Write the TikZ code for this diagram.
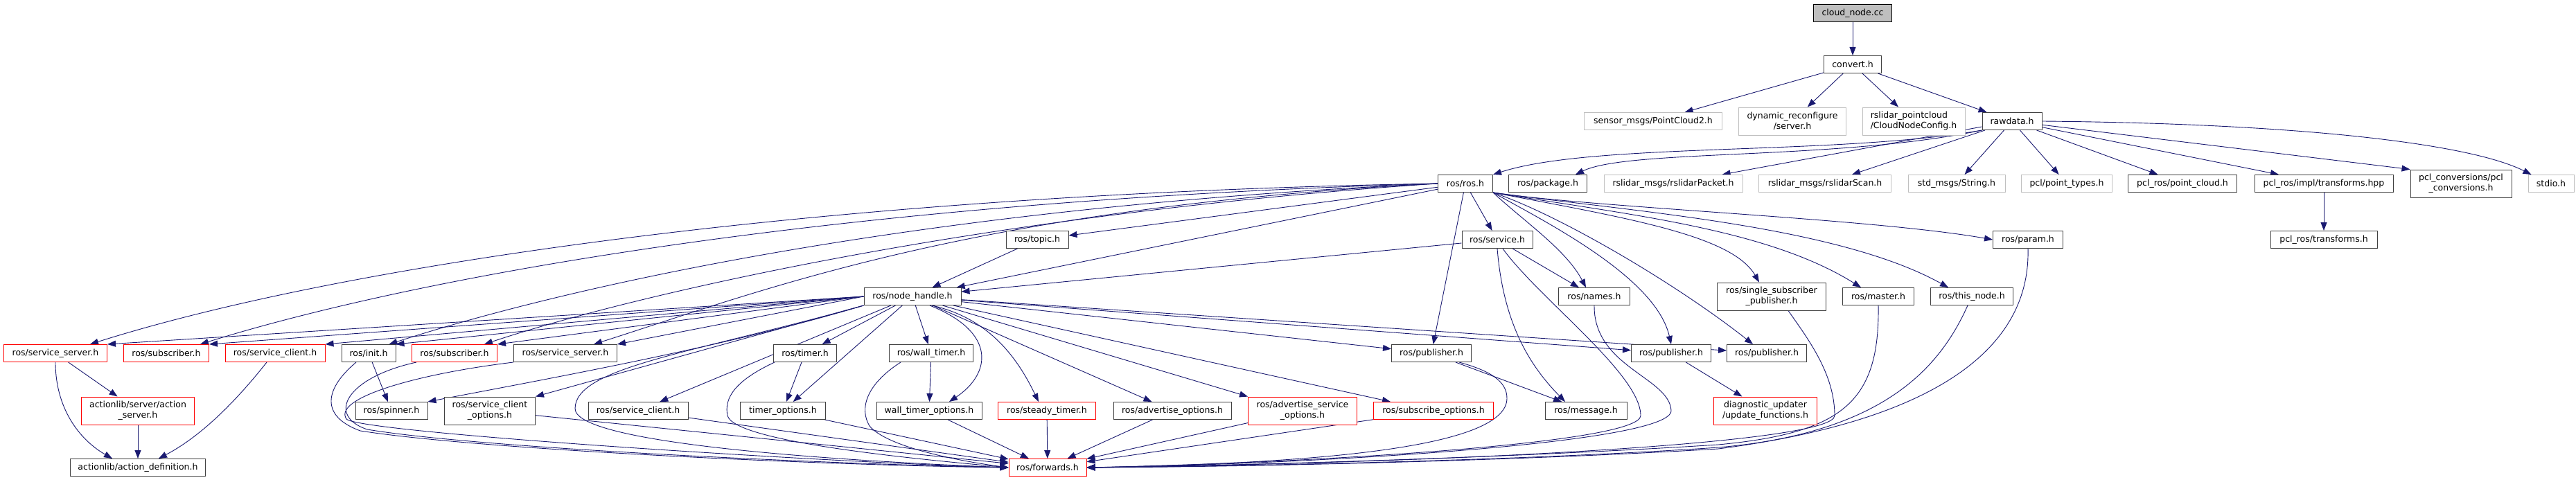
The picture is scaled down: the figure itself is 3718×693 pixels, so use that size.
\documentclass[tikz,border=0pt]{standalone}
\usepackage{fontspec}
\newfontfamily\dotfont{DejaVu Sans}
\usepackage{xcolor}
\usepackage{tikz}
\usetikzlibrary{arrows.meta, backgrounds}
\definecolor{edgeblue}{HTML}{191970}
\definecolor{hdrgray}{HTML}{404040}
\definecolor{extgray}{HTML}{BFBFBF}

\begin{document}
\begin{tikzpicture}[
    x=1pt, y=-1pt,
    hdr/.style={rectangle, draw=hdrgray, fill=white, line width=1pt, minimum height=25pt, inner sep=0pt, align=center, font=\dotfont\fontsize{12.5}{15}\selectfont},
    ext/.style={hdr, draw=extgray},
    trunc/.style={hdr, draw=red},
    root/.style={hdr, draw=black, fill=extgray},
    twoline/.style={minimum height=40pt},
    dep/.style={draw=edgeblue, line width=0.9pt, -{Triangle[length=12pt,width=9pt]}}
]

\useasboundingbox (0,0) rectangle (3718,693);

% Root and first level
\node[root, minimum width=113pt] (cloud) at (2674,19) {cloud\_node.cc};
\node[hdr, minimum width=83pt] (convert) at (2674,93) {convert.h};

\node[ext, minimum width=199pt] (pc2) at (2386,175) {sensor\_msgs/PointCloud2.h};
\node[ext, twoline, minimum width=155pt] (dynrec) at (2587,175) {dynamic\_reconfigure\\/server.h};
\node[ext, twoline, minimum width=148pt, align=left] (cfg) at (2762,175) {rslidar\_pointcloud\\/CloudNodeConfig.h};
\node[hdr, minimum width=86pt] (rawdata) at (2904,175) {rawdata.h};

% Headers pulled in by rawdata.h
\node[hdr, minimum width=79pt] (ros) at (2115,265) {ros/ros.h};
\node[hdr, minimum width=113pt] (pkg) at (2234,265) {ros/package.h};
\node[ext, minimum width=200pt] (pkt) at (2415,265) {rslidar\_msgs/rslidarPacket.h};
\node[ext, minimum width=191pt] (scan) at (2634,265) {rslidar\_msgs/rslidarScan.h};
\node[ext, minimum width=140pt] (str) at (2824,265) {std\_msgs/String.h};
\node[ext, minimum width=131pt] (ptypes) at (2983,265) {pcl/point\_types.h};
\node[hdr, minimum width=157pt] (pcloud) at (3150,265) {pcl\_ros/point\_cloud.h};
\node[hdr, minimum width=200pt] (tfhpp) at (3354,265) {pcl\_ros/impl/transforms.hpp};
\node[hdr, twoline, minimum width=146pt] (pclconv) at (3552,265) {pcl\_conversions/pcl\\\_conversions.h};
\node[ext, minimum width=66pt] (stdio) at (3682,265) {stdio.h};

\node[hdr, minimum width=90pt] (topic) at (1497,346) {ros/topic.h};
\node[hdr, minimum width=102pt] (service) at (2161,346) {ros/service.h};
\node[hdr, minimum width=101pt] (param) at (2927,346) {ros/param.h};
\node[hdr, minimum width=154pt] (tfh) at (3354,346) {pcl\_ros/transforms.h};

\node[hdr, minimum width=140pt] (nh) at (1317,428) {ros/node\_handle.h};
\node[hdr, minimum width=103pt] (names) at (2301,428) {ros/names.h};
\node[hdr, twoline, minimum width=157pt] (ssp) at (2557,428) {ros/single\_subscriber\\\_publisher.h};
\node[hdr, minimum width=103pt] (master) at (2711,428) {ros/master.h};
\node[hdr, minimum width=119pt] (thisnode) at (2846,428) {ros/this\_node.h};

% node_handle.h level
\node[trunc, minimum width=149pt] (ssred) at (80,510) {ros/service\_server.h};
\node[trunc, minimum width=123pt] (subred) at (240,510) {ros/subscriber.h};
\node[trunc, minimum width=144pt] (scred) at (397,510) {ros/service\_client.h};
\node[hdr, minimum width=78pt] (init) at (532,510) {ros/init.h};
\node[trunc, minimum width=123pt] (subred2) at (656,510) {ros/subscriber.h};
\node[hdr, minimum width=149pt] (ssblk) at (816,510) {ros/service\_server.h};
\node[hdr, minimum width=91pt] (timer) at (1162,510) {ros/timer.h};
\node[hdr, minimum width=121pt] (wtimer) at (1344,510) {ros/wall\_timer.h};
\node[hdr, minimum width=115pt] (pub1) at (2066,510) {ros/publisher.h};
\node[hdr, minimum width=115pt] (pub2) at (2412,510) {ros/publisher.h};
\node[hdr, minimum width=115pt] (pub3) at (2550,510) {ros/publisher.h};

\node[trunc, twoline, minimum width=163pt] (asrv) at (199,593) {actionlib/server/action\\\_server.h};
\node[hdr, minimum width=104pt] (spinner) at (565,593) {ros/spinner.h};
\node[hdr, twoline, minimum width=131pt] (sco) at (707,593) {ros/service\_client\\\_options.h};
\node[hdr, minimum width=144pt] (scblk) at (921,593) {ros/service\_client.h};
\node[hdr, minimum width=123pt] (topts) at (1130,593) {timer\_options.h};
\node[hdr, minimum width=152pt] (wtopts) at (1341,593) {wall\_timer\_options.h};
\node[trunc, minimum width=141pt] (steady) at (1511,593) {ros/steady\_timer.h};
\node[hdr, minimum width=170pt] (advopts) at (1692,593) {ros/advertise\_options.h};
\node[trunc, twoline, minimum width=157pt] (asopts) at (1880,593) {ros/advertise\_service\\\_options.h};
\node[trunc, minimum width=173pt] (subopts) at (2069,593) {ros/subscribe\_options.h};
\node[hdr, minimum width=118pt] (msg) at (2289,593) {ros/message.h};
\node[trunc, twoline, minimum width=149pt] (diag) at (2548,593) {diagnostic\_updater\\/update\_functions.h};

\node[hdr, minimum width=195pt] (adef) at (199,675) {actionlib/action\_definition.h};
\node[trunc, minimum width=112pt] (fwd) at (1512,675) {ros/forwards.h};

\begin{scope}[on background layer]
% top of the tree
\draw[dep] (cloud) -- (convert);
\draw[dep] (convert) -- (pc2);
\draw[dep] (convert) -- (dynrec);
\draw[dep] (convert) -- (cfg);
\draw[dep] (convert) -- (rawdata);

% rawdata.h
\draw[dep] (rawdata.south west) .. controls (2650,225) and (2300,205) .. (ros.north east);
\draw[dep] (rawdata.south west) .. controls (2650,232) and (2350,215) .. ([xshift=40pt]pkg.north);
\draw[dep] (rawdata) -- (pkt);
\draw[dep] (rawdata) -- (scan);
\draw[dep] (rawdata) -- (str);
\draw[dep] (rawdata) -- (ptypes);
\draw[dep] (rawdata) -- (pcloud);
\draw[dep] (rawdata) -- (tfhpp);
\draw[dep] (rawdata) -- (pclconv.north west);
\draw[dep] (rawdata.east) .. controls (3300,178) and (3560,205) .. ([xshift=5pt]stdio.north west);
\draw[dep] (tfhpp) -- (tfh);

% ros/ros.h
\draw[dep] (ros.west) .. controls (1200,280) and (500,380) .. ([xshift=50pt]ssred.north);
\draw[dep] (ros.west) .. controls (1200,290) and (600,400) .. ([xshift=49pt]subred.north);
\draw[dep] (ros.west) .. controls (1300,300) and (800,420) .. ([xshift=-10pt]init.north east);
\draw[dep] (ros.west) .. controls (1400,310) and (900,430) .. ([xshift=43pt]subred2.north);
\draw[dep] (ros.west) .. controls (1400,300) and (1100,420) .. ([xshift=41pt]ssblk.north);
\draw[dep] (ros) -- (topic);
\draw[dep] (ros) -- (nh);
\draw[dep] (ros) -- (service);
\draw[dep] (ros) -- (pub1);
\draw[dep] (ros.south east) .. controls (2200,320) and (2260,360) .. ([xshift=-12pt]names.north);
\draw[dep] (ros.south east) .. controls (2230,320) and (2390,400) .. (pub2.north);
\draw[dep] (ros.south east) .. controls (2250,310) and (2420,410) .. ([xshift=-20pt]pub3.north);
\draw[dep] (ros.south east) .. controls (2350,315) and (2500,340) .. ([xshift=-18pt]ssp.north);
\draw[dep] (ros.south east) .. controls (2350,310) and (2550,330) .. ([xshift=-25pt]master.north);
\draw[dep] (ros.south east) .. controls (2350,305) and (2650,325) .. ([xshift=-34pt]thisnode.north);
\draw[dep] (ros.south east) .. controls (2300,300) and (2700,315) .. (param.west);

% ros/node_handle.h
\draw[dep] (nh.west) -- (ssred.north east);
\draw[dep] (nh.west) -- (subred.north east);
\draw[dep] (nh.west) -- (scred.north east);
\draw[dep] (nh.west) -- (init.north east);
\draw[dep] (nh.west) -- (subred2.north east);
\draw[dep] (nh.west) -- (ssblk.north east);
\draw[dep] (nh.south west) .. controls (1050,500) and (800,545) .. (spinner.north east);
\draw[dep] (nh.south west) -- (sco.north east);
\draw[dep] (nh) -- (scblk);
\draw[dep] (nh) -- (timer);
\draw[dep] (nh) -- (topts);
\draw[dep] (nh) -- (wtimer);
\draw[dep] ([xshift=25pt]nh.south) .. controls (1440,480) and (1430,540) .. ([xshift=29pt]wtopts.north);
\draw[dep] ([xshift=28pt]nh.south) .. controls (1430,460) and (1470,520) .. ([xshift=-12pt]steady.north);
\draw[dep] (nh) -- (advopts);
\draw[dep] (nh) -- (asopts.north west);
\draw[dep] (nh) -- ([xshift=25pt]subopts.north west);
\draw[dep] (nh) -- (pub1);
\draw[dep] (nh) -- (pub2);
\draw[dep] (nh) -- (pub3);
\draw[dep] (nh.south west) .. controls (1000,510) and (830,530) .. (830,590) .. controls (830,640) and (1200,665) .. (fwd.west);

% the rest
\draw[dep] (topic) -- (nh);
\draw[dep] (service) -- (nh);
\draw[dep] (service) -- (names);
\draw[dep] (service.south) .. controls (2170,470) and (2210,530) .. ([xshift=-30pt]msg.north);
\draw[dep] ([xshift=8pt]service.south) .. controls (2220,430) and (2368,540) .. (2368,600) .. controls (2368,640) and (1900,668) .. (fwd.east);
\draw[dep] (names.south) .. controls (2300,530) and (2410,545) .. (2412,593) .. controls (2412,640) and (1900,670) .. (fwd.east);
\draw[dep] (pub1) -- (msg);
\draw[dep] ([xshift=40pt]pub1.south) .. controls (2150,535) and (2175,550) .. (2175,575) .. controls (2175,640) and (1950,668) .. (fwd.east);
\draw[dep] (pub2) -- (diag);
\draw[dep] ([xshift=24pt]ssp.south) .. controls (2610,490) and (2648,540) .. (2648,600) .. controls (2648,640) and (2100,668) .. (fwd.east);
\draw[dep] (master.south) .. controls (2713,580) and (2660,625) .. (2480,642) .. controls (2200,660) and (1800,672) .. (fwd.east);
\draw[dep] ([xshift=-6pt]thisnode.south) .. controls (2800,530) and (2720,625) .. (2480,646) .. controls (2200,665) and (1800,673) .. (fwd.east);
\draw[dep] (param.south) .. controls (2930,470) and (2850,600) .. (2480,648) .. controls (2200,665) and (1800,674) .. (fwd.east);

\draw[dep] (ssred) -- (asrv);
\draw[dep] (ssred.south) .. controls (80,590) and (115,635) .. ([xshift=-37pt]adef.north);
\draw[dep] (asrv) -- (adef);
\draw[dep] ([xshift=-12pt]scred.south) .. controls (340,580) and (290,630) .. ([xshift=30pt]adef.north);
\draw[dep] (init) -- (spinner);
\draw[dep] ([xshift=-18pt]init.south) .. controls (470,560) and (460,600) .. (520,622) .. controls (700,650) and (1200,672) .. (fwd.west);
\draw[dep] ([xshift=-55pt]subred2.south) .. controls (500,545) and (470,600) .. (530,620) .. controls (700,648) and (1200,670) .. (fwd.west);
\draw[dep] (ssblk.south west) .. controls (600,540) and (480,575) .. (500,605) .. controls (520,625) and (1200,668) .. (fwd.west);
\draw[dep] (sco) -- (fwd);
\draw[dep] (scblk) -- (fwd);
\draw[dep] (timer) -- (topts);
\draw[dep] ([xshift=-44pt]timer.south) .. controls (1060,550) and (1045,575) .. (1050,600) .. controls (1060,640) and (1350,665) .. (fwd.west);
\draw[dep] (topts) -- (fwd);
\draw[dep] (wtimer) -- (wtopts);
\draw[dep] ([xshift=-44pt]wtimer.south) .. controls (1250,555) and (1240,590) .. (1255,615) .. controls (1280,645) and (1380,665) .. (fwd.west);
\draw[dep] (wtopts) -- (fwd);
\draw[dep] (steady) -- (fwd);
\draw[dep] (advopts) -- (fwd);
\draw[dep] (asopts) -- (fwd);
\draw[dep] (subopts) -- (fwd);
\end{scope}

\end{tikzpicture}
\end{document}
